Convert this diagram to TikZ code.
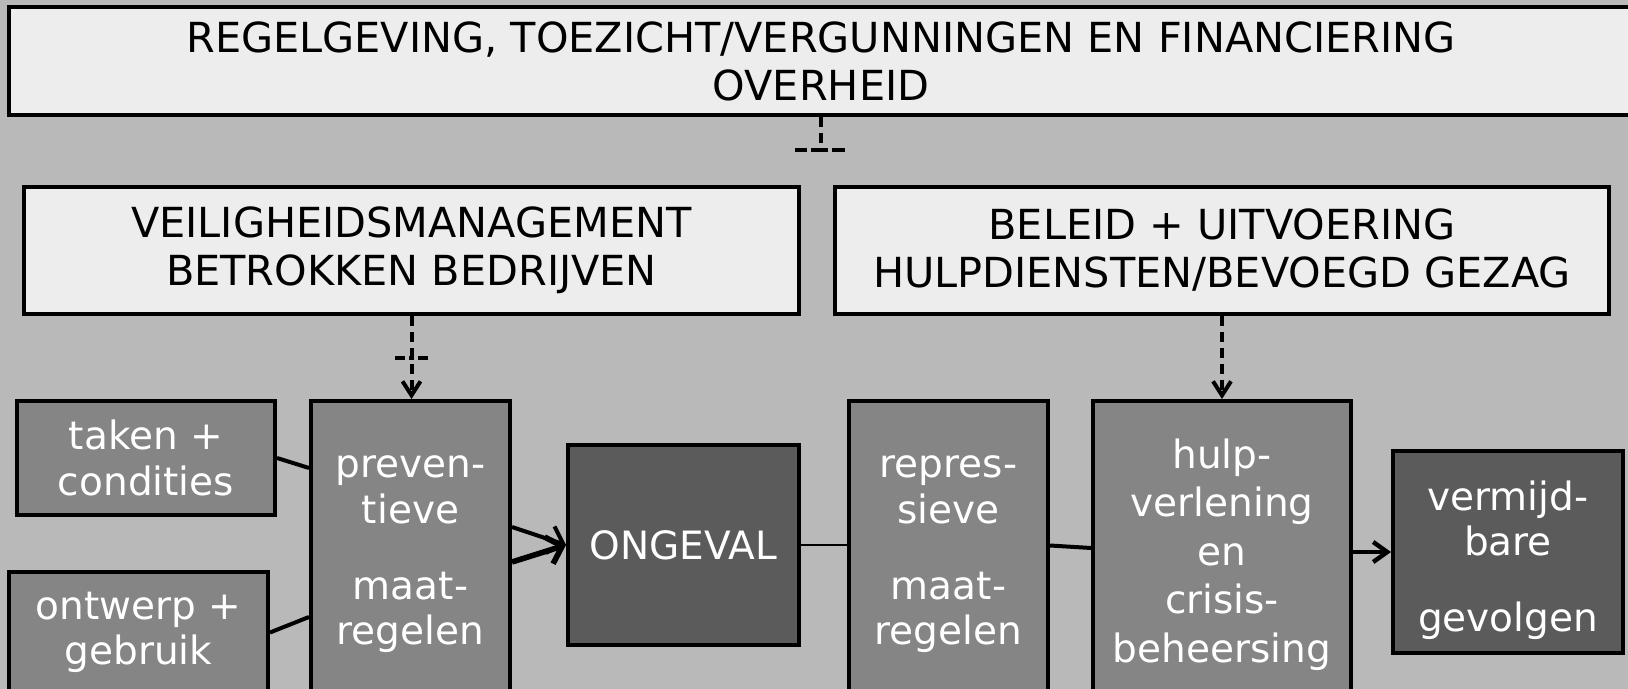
\documentclass[tikz,border=0pt]{standalone}
\usepackage{fontspec}
\setmainfont{DejaVu Sans}
\usetikzlibrary{arrows.meta}
\definecolor{achtergrond}{HTML}{B9B9B9}
\definecolor{licht}{HTML}{EDEDED}
\definecolor{middel}{HTML}{858585}
\definecolor{donker}{HTML}{5B5B5B}

\begin{document}
\begin{tikzpicture}[x=0.5pt,y=-0.5pt,
    kop/.style={draw,line width=2pt,fill=licht,inner sep=0pt,align=center,font=\fontsize{20.7}{24}\selectfont},
    blok/.style={draw,line width=2pt,fill=middel,text=white,inner sep=0pt,align=center,font=\fontsize{19.5}{22.8}\selectfont},
    donkerblok/.style={blok,fill=donker},
    lijn/.style={line width=2pt},
    pijl/.style={lijn,-{Straight Barb[length=7pt,width=10pt]}},
    streep/.style={line width=2pt,dash pattern=on 5pt off 3pt}]
                % background and page size
                \fill[achtergrond] (0,0) rectangle (1628,689);
                \useasboundingbox (0,0) rectangle (1628,689);
                % Upper row of boxes
                \node[kop,minimum width=812pt,minimum height=54pt] (overheid) at (821,61)
                    {REGELGEVING, TOEZICHT/VERGUNNINGEN EN FINANCIERING\\OVERHEID};
                \node[kop,minimum width=387.5pt,minimum height=63.5pt] (bedrijven) at (411.5,250.5)
                    {VEILIGHEIDSMANAGEMENT\\BETROKKEN BEDRIJVEN};
                \node[kop,minimum width=387pt,minimum height=63.5pt] (hulpdiensten) at (1222,250.5)
                    {BELEID + UITVOERING\\HULPDIENSTEN/BEVOEGD GEZAG};
                % Lower row of boxes
                \node[blok,minimum width=129pt,minimum height=57pt] (taken) at (146,458) {taken +\\condities};
                \node[blok,minimum width=129.5pt,minimum height=60.5pt] (ontwerp) at (138.5,632.5) {ontwerp +\\gebruik};
                \node[blok,minimum width=99.5pt,minimum height=153.5pt] (preventief) at (410.5,554.5)
                    {preven-\\tieve\\[15pt]maat-\\regelen};
                \node[donkerblok,minimum width=115.5pt,minimum height=100pt] (ongeval) at (683.5,545) {ONGEVAL};
                \node[blok,minimum width=99.5pt,minimum height=153.5pt] (repressief) at (948.5,554.5)
                    {repres-\\sieve\\[15pt]maat-\\regelen};
                \node[blok,minimum width=129pt,minimum height=153.5pt,font=\fontsize{19.5}{24.3}\selectfont] (hulp) at (1222,554.5)
                    {hulp-\\verlening\\en\\crisis-\\beheersing};
                \node[donkerblok,minimum width=115pt,minimum height=101pt] (gevolgen) at (1508,552)
                    {\rule{0pt}{23pt}vermijd-\\bare\\[15pt]gevolgen};
                % Dashed influence lines
                \coordinate (tlinks) at (795,150);
                \coordinate (trechts) at (845,150);
                \draw[streep] (overheid.south) -- (overheid.south |- tlinks);
                \draw[streep,dash pattern=on 6pt off 2pt on 8.5pt off 2pt on 6.5pt] (tlinks) -- (trechts);
                \coordinate (klinks) at (395,358);
                \coordinate (krechts) at (428,358);
                \draw[streep,-{Straight Barb[length=7pt,width=9pt]}] (bedrijven.south) -- (bedrijven.south |- preventief.north);
                \draw[streep,dash pattern=on 5pt off 2pt on 2.5pt off 2pt on 5pt] (klinks) -- (krechts);
                \draw[streep,-{Straight Barb[length=7pt,width=9pt]}] (hulpdiensten.south) -- (hulp.north);
                % Chain of events
                \draw[lijn] (taken.east) -- ([yshift=43.25pt]preventief.west);
                \draw[lijn] (ontwerp.east) -- ([yshift=-31.25pt]preventief.west);
                \draw[pijl,-{Straight Barb[length=7pt,width=14pt]}] ([yshift=13.75pt]preventief.east) -- (ongeval.west);
                \draw[pijl,line width=2.8pt,-{Straight Barb[length=7pt,width=14pt]}] ([yshift=-3.75pt]preventief.east) -- (ongeval.west);
                \draw[line width=1.4pt] (ongeval.east) -- (ongeval.east -| repressief.west);
                \draw[lijn] ([yshift=4.5pt]repressief.east) -- ([yshift=3.25pt]hulp.west);
                \draw[pijl,line width=2.2pt] (hulp.east |- gevolgen.west) -- (gevolgen.west);
\end{tikzpicture}
\end{document}
